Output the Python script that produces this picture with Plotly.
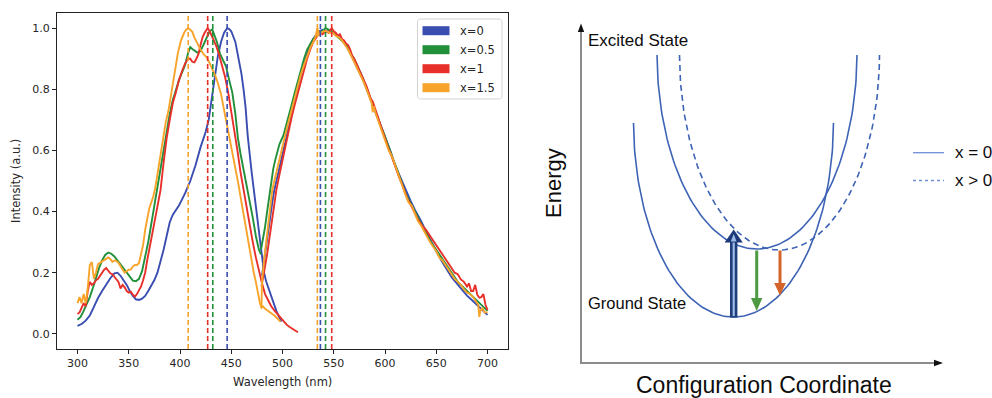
import plotly.graph_objects as go
import math

W, H = 992, 398

# ---------------- data: left panel ----------------
SERIES = ["x=0", "x=0.5", "x=1", "x=1.5"]
COLORS = ["#3a4db0", "#22903a", "#e8302a", "#f8a32a"]

X_TICKS = [300, 350, 400, 450, 500, 550, 600, 650, 700]
Y_TICKS = [0.0, 0.2, 0.4, 0.6, 0.8, 1.0]

# excitation peaks / emission peaks (dashed markers)
EX_PEAKS = [446, 432, 427, 408]
EM_PEAKS = [537, 542, 548, 534]

X0_EX = [(300,.026),(304,.032),(308,.043),(312,.06),(316,.088),(320,.117),(324,.14),(328,.163),
         (332,.182),(336,.198),(339,.2),(342,.19),(345,.175),(348,.16),(351,.14),(354,.124),
         (357,.113),(360,.111),(363,.115),(366,.124),(369,.14),(372,.158),(375,.176),(378,.2),
         (381,.235),(384,.275),(387,.32),(390,.365),(393,.39),(396,.405),(399,.42),(402,.44),
         (405,.46),(410,.5),(415,.55),(420,.61),(425,.66),(428,.7),(431,.77),(434,.84),(437,.91),
         (440,.955),(443,.985),(446,1.0),(448,.997),(450,.99),(452,.975),(454,.955),(456,.92),
         (458,.885),(460,.85),(462,.8),(464,.74),(466,.65),(468,.58),(470,.526),(472,.472),
         (474,.418),(476,.364),(478,.31),(480,.256),(482,.2),(484,.172),(486,.152),(488,.13),
         (490,.11),(492,.092),(494,.075),(496,.06),(498,.046),(499,.04)]
X0_EM = [(480,.19),(482,.24),(484,.29),(486,.34),(488,.39),(490,.43),(492,.47),(494,.5),(496,.53),
         (498,.56),(500,.59),(503,.63),(506,.67),(509,.72),(512,.765),(515,.81),(518,.85),(521,.885),
         (524,.915),(527,.945),(530,.965),(533,.98),(536,.99),(539,.995),(542,.99),(545,.99),
         (548,.99),(551,.98),(554,.975),(557,.965),(560,.955),(563,.94),(566,.92),(569,.9),
         (572,.88),(575,.86),(578,.835),(581,.81),(585,.775),(590,.735),(595,.69),(600,.645),
         (605,.6),(610,.55),(615,.51),(620,.47),(625,.435),(630,.4),(635,.37),(640,.335),
         (645,.3),(650,.27),(655,.24),(660,.21),(665,.185),(670,.165),(675,.145),(680,.125),
         (685,.11),(690,.093),(695,.078),(700,.062)]

X05_EX = [(300,.046),(303,.055),(306,.075),(309,.095),(312,.12),(315,.15),(318,.185),(321,.215),
          (324,.24),(327,.258),(330,.266),(333,.262),(336,.253),(339,.24),(342,.226),(345,.212),
          (348,.2),(351,.185),(354,.174),(357,.172),(360,.18),(363,.205),(366,.25),(369,.3),
          (372,.36),(375,.42),(378,.49),(381,.55),(384,.61),(387,.66),(390,.72),(393,.765),
          (396,.8),(399,.83),(402,.855),(405,.88),(408,.92),(410,.938),(412,.932),(414,.928),
          (417,.92),(420,.925),(423,.945),(426,.97),(429,.99),(431.5,.996),(434,.975),(436,.955),
          (439,.917),(442,.895),(445,.874),(448,.83),(451,.79),(454,.72),(456.5,.64),(459,.59),
          (462,.54),(465,.48),(468,.43),(471,.38),(474,.32),(477,.275),(479,.26)]
X05_EM = [(479,.275),(481,.31),(483,.35),(485,.4),(487,.45),(489,.5),(491,.54),(493,.57),(495,.6),
          (497,.62),(499,.635),(501,.65),(503,.675),(506,.71),(509,.75),(512,.79),(515,.83),
          (518,.865),(521,.9),(524,.93),(527,.95),(530,.965),(533,.975),(536,.985),(539,.99),
          (542,1.0),(545,.995),(548,.99),(551,.98),(554,.972),(557,.962),(560,.952),(563,.94),
          (566,.92),(569,.905),(572,.885),(575,.865),(578,.84),(581,.815),(584,.785),(587,.76),
          (590,.735),(593,.705),(596,.68),(599,.655),(602,.625),(605,.6),(608,.57),(611,.545),
          (614,.515),(617,.49),(620,.46),(623,.44),(626,.42),(629,.4),(632,.38),(635,.36),
          (638,.34),(641,.32),(644,.305),(647,.29),(650,.275),(653,.26),(656,.245),(659,.23),
          (662,.215),(665,.2),(668,.185),(671,.17),(674,.16),(677,.15),(680,.14),(683,.13),
          (686,.12),(689,.11),(692,.1),(695,.09),(698,.08),(700,.075)]

X1_EX = [(300,.065),(302,.07),(304,.085),(306,.1),(308,.09),(310,.14),(312,.17),(314,.16),
         (316,.165),(318,.175),(320,.18),(322,.19),(324,.2),(326,.21),(328,.215),(330,.205),
         (332,.198),(334,.195),(336,.187),(338,.18),(340,.17),(342,.148),(344,.16),(346,.152),
         (348,.14),(350,.135),(352,.138),(354,.128),(356,.122),(358,.13),(360,.142),(362,.155),
         (364,.175),(366,.2),(368,.24),(370,.275),(372,.3),(375,.36),(378,.41),(381,.47),
         (384,.56),(387,.64),(390,.7),(393,.755),(396,.79),(399,.83),(402,.86),(405,.885),
         (408,.9),(410,.9),(412,.89),(414,.888),(416,.9),(418,.915),(420,.945),(422,.97),
         (424,.985),(426,.995),(427,1.0),(429,.99),(432,.97),(435,.945),(438,.915),(441,.88),
         (444,.84),(447,.79),(450,.73),(453,.66),(456,.6),(459,.53),(462,.47),(465,.41),
         (468,.35),(471,.3),(474,.25),(477,.205),(480,.165),(483,.13),(486,.11),(489,.09),
         (492,.077),(495,.065),(498,.053),(501,.04),(504,.03),(507,.022),(510,.015),(512,.012),
         (515,.005)]
X1_EM = [(479.5,.155),(482,.2),(485,.26),(488,.33),(491,.4),(494,.47),(497,.52),(500,.57),
         (503,.62),(506,.67),(509,.71),(512,.75),(515,.79),(518,.83),(521,.865),(524,.9),
         (527,.93),(530,.955),(533,.97),(536,.985),(539,.98),(542,.99),(545,.985),(548,1.0),
         (550,.99),(552,.985),(554,.975),(556,.98),(558,.965),(560,.96),(562,.95),(564,.945),
         (566,.93),(568,.91),(570,.9),(572,.885),(574,.87),(576,.855),(578,.84),(580,.83),
         (582,.81),(584,.79),(586,.77),(588,.76),(590,.74),(592,.72),(594,.695),(596,.675),
         (598,.66),(600,.64),(602,.62),(604,.6),(606,.585),(608,.565),(610,.55),(612,.53),
         (614,.51),(616,.495),(618,.475),(620,.46),(622,.44),(624,.43),(626,.415),(628,.4),
         (630,.39),(632,.375),(634,.365),(636,.355),(640,.34),(645,.315),(650,.29),(655,.265),
         (660,.24),(665,.215),(668,.2),(671,.195),(674,.178),(677,.17),(680,.155),(682,.165),
         (684,.14),(686,.14),(688,.16),(690,.128),(692,.118),(694,.12),(696,.13),(698,.095),
         (700,.078)]

X15_EX = [(300,.1),(302,.12),(304,.1),(306,.13),(308,.1),(310,.15),(312,.225),(314,.235),
          (316,.18),(318,.2),(320,.228),(322,.232),(324,.236),(326,.24),(328,.245),(330,.25),
          (332,.245),(334,.235),(336,.24),(338,.238),(340,.232),(342,.22),(344,.21),(346,.2),
          (348,.205),(350,.21),(352,.21),(354,.22),(356,.225),(358,.225),(360,.232),(362,.258),
          (364,.29),(366,.34),(368,.38),(370,.41),(372,.43),(374,.45),(376,.48),(378,.52),
          (380,.56),(383,.634),(386,.69),(389,.735),(392,.8),(395,.86),(398,.92),(401,.96),
          (404,.985),(406,.995),(408,1.0),(410,.995),(412,.988),(414,.97),(416,.955),(418,.945),
          (420,.93),(423,.915),(426,.905),(429,.885),(432,.863),(435,.84),(437,.82),(440,.785),
          (442,.75),(445,.7),(448,.65),(451,.6),(454,.55),(457,.49),(460,.43),(463,.37),
          (466,.315),(468,.28),(470,.24),(472,.2),(474,.17),(476,.13),(478,.1),(479.5,.085),
          (481,.09),(483,.082),(486,.075),(489,.068),(492,.06),(495,.05),(498,.04)]
X15_EM = [(479.5,.09),(480,.17),(482,.24),(484,.3),(486,.36),(488,.42),(490,.47),(492,.5),
          (494,.53),(496,.56),(498,.58),(500,.61),(503,.655),(506,.695),(509,.735),(512,.775),
          (515,.815),(518,.85),(521,.88),(524,.91),(527,.935),(530,.955),(532,.97),(534,1.0),
          (536,.975),(538,.985),(540,.99),(543,.99),(546,.985),(549,.985),(552,.975),(555,.97),
          (558,.96),(561,.945),(564,.93),(567,.91),(570,.89),(573,.87),(576,.85),(579,.825),
          (582,.8),(585,.775),(587,.755),(588,.725),(589,.745),(591,.72),(594,.69),(597,.665),
          (600,.635),(603,.605),(606,.585),(608,.57),(611,.54),(614,.51),(617,.48),(620,.455),
          (623,.43),(626,.42),(629,.395),(632,.37),(635,.355),(638,.335),(641,.32),(644,.3),
          (647,.285),(650,.27),(653,.25),(656,.24),(659,.225),(662,.21),(665,.195),(668,.18),
          (671,.17),(674,.16),(677,.145),(680,.135),(683,.13),(686,.12),(689,.105),(691,.095),
          (692,.055),(693,.075),(695,.085),(697,.07),(700,.07)]

EXCITATION = [X0_EX, X05_EX, X1_EX, X15_EX]
EMISSION = [X0_EM, X05_EM, X1_EM, X15_EM]

# ---------------- data: right panel (schematic, pixel units) ----------------
# (centre x, minimum y, half-width, depth, top y)
GROUND = (733.5, 317, 100, 196, 123)
EXCITED_X0 = (757, 249, 100, 196, 55)
EXCITED_XG0 = (779.5, 250, 100, 196, 55)
DIAGRAM_BLUE = "#3d63b5"

fig = go.Figure()

# left panel curves
for name, col, ex, em in zip(SERIES, COLORS, EXCITATION, EMISSION):
    for seg in (ex, em):
        fig.add_trace(go.Scatter(x=[p[0] for p in seg], y=[p[1] for p in seg], mode="lines",
                                 line=dict(color=col, width=1.9), name=name,
                                 hoverinfo="skip", xaxis="x", yaxis="y"))

shapes = []
for col, pk in zip(COLORS, EX_PEAKS):
    shapes.append(dict(type="line", xref="x", yref="y domain", x0=pk, x1=pk, y0=0, y1=1,
                       line=dict(color=col, width=1.6, dash="5px,3px")))
for col, pk in zip(COLORS, EM_PEAKS):
    shapes.append(dict(type="line", xref="x", yref="y domain", x0=pk, x1=pk, y0=0, y1=1,
                       line=dict(color=col, width=1.6, dash="5px,3px")))

annotations = []

def px(xp):
    return xp / W

def py(yp):
    return 1 - yp / H

def rounded_rect(x0, y0, x1, y1, r):
    # pixel coords -> paper coords path with rounded corners
    pts = []
    n = 5
    corners = [(x1 - r, y0 + r, -90, 0), (x1 - r, y1 - r, 0, 90),
               (x0 + r, y1 - r, 90, 180), (x0 + r, y0 + r, 180, 270)]
    for cx, cy, a0, a1 in corners:
        for k in range(n + 1):
            a = math.radians(a0 + (a1 - a0) * k / n)
            pts.append((px(cx + r * math.cos(a)), py(cy + r * math.sin(a))))
    return "M " + " L ".join(f"{x:.5f},{y:.5f}" for x, y in pts) + " Z"

# legend box (left panel)
shapes.append(dict(type="path", xref="paper", yref="paper", path=rounded_rect(417.5, 19, 502, 99, 3),
                   line=dict(color="#d4d4d4", width=1), fillcolor="rgba(255,255,255,0.85)"))
for i, (name, col) in enumerate(zip(SERIES, COLORS)):
    yc = 30.7 + i * 19
    shapes.append(dict(type="rect", xref="paper", yref="paper", x0=px(422.5), x1=px(449.5),
                       y0=py(yc + 4.5), y1=py(yc - 4.5), line=dict(width=0), fillcolor=col))
    annotations.append(dict(xref="paper", yref="paper", x=px(458), y=py(yc), text=name, showarrow=False,
                            xanchor="left", yanchor="middle",
                            font=dict(family="DejaVu Sans", size=11.5, color="#262626")))

annotations.append(dict(xref="paper", yref="paper", x=px(282.5), y=py(382), text="Wavelength (nm)",
                        showarrow=False, xanchor="center", yanchor="middle",
                        font=dict(family="DejaVu Sans", size=11.5, color="#262626")))
annotations.append(dict(xref="paper", yref="paper", x=px(16), y=py(181), text="Intensity (a.u.)",
                        showarrow=False, xanchor="center", yanchor="middle", textangle=-90,
                        font=dict(family="DejaVu Sans", size=11.5, color="#262626")))

# ---------------- right panel ----------------
def well(params, n=120):
    cx, ymin, a, b, ytop = params
    yc = ymin - b
    tmax = math.acos(max(-1.0, min(1.0, (ytop - yc) / b)))
    xs, ys = [], []
    for k in range(n + 1):
        t = -tmax + 2 * tmax * k / n
        xs.append(cx + a * math.sin(t))
        ys.append(yc + b * math.cos(t))
    return xs, ys

for params, dash in ((GROUND, "solid"), (EXCITED_X0, "solid"), (EXCITED_XG0, "6px,4px")):
    xs, ys = well(params)
    fig.add_trace(go.Scatter(x=xs, y=ys, mode="lines", line=dict(color=DIAGRAM_BLUE, width=1.6, dash=dash),
                             hoverinfo="skip", xaxis="x2", yaxis="y2"))

def tri(pts):
    return "M " + " L ".join(f"{x},{y}" for x, y in pts) + " Z"

# axis arrows
shapes.append(dict(type="line", xref="x2", yref="y2", x0=581, x1=581, y0=364, y1=30,
                   line=dict(color="#8c8c8c", width=2)))
shapes.append(dict(type="line", xref="x2", yref="y2", x0=580, x1=936, y0=363, y1=363,
                   line=dict(color="#8c8c8c", width=2)))
shapes.append(dict(type="path", xref="x2", yref="y2", path=tri([(577.8, 32), (584.2, 32), (581, 23.5)]),
                   fillcolor="#111", line=dict(width=0)))
shapes.append(dict(type="path", xref="x2", yref="y2", path=tri([(934, 359.8), (934, 366.2), (943, 363)]),
                   fillcolor="#111", line=dict(width=0)))

# absorption arrow (blue, double)
shapes.append(dict(type="rect", xref="x2", yref="y2", x0=730, x1=737.4, y0=241, y1=317.5,
                   fillcolor="#1f3d7a", line=dict(width=0)))
shapes.append(dict(type="rect", xref="x2", yref="y2", x0=732.6, x1=734.8, y0=240, y1=316,
                   fillcolor="#9dbbe6", line=dict(width=0)))
shapes.append(dict(type="path", xref="x2", yref="y2", path=tri([(724.6, 242.5), (742.8, 242.5), (733.7, 229.5)]),
                   fillcolor="#1d3a78", line=dict(width=0)))
shapes.append(dict(type="path", xref="x2", yref="y2", path=tri([(730.8, 241.5), (736.6, 241.5), (733.7, 234)]),
                   fillcolor="#9dbbe6", line=dict(width=0)))

# emission arrows
shapes.append(dict(type="line", xref="x2", yref="y2", x0=756.7, x1=756.7, y0=250.5, y1=299,
                   line=dict(color="#4d9a40", width=3)))
shapes.append(dict(type="path", xref="x2", yref="y2", path=tri([(751, 298), (762.4, 298), (756.7, 311)]),
                   fillcolor="#4d9a40", line=dict(width=0)))
shapes.append(dict(type="line", xref="x2", yref="y2", x0=780, x1=780, y0=250.5, y1=284,
                   line=dict(color="#d4642a", width=3)))
shapes.append(dict(type="path", xref="x2", yref="y2", path=tri([(774.2, 283), (785.8, 283), (780, 295.5)]),
                   fillcolor="#d4642a", line=dict(width=0)))

# right legend
shapes.append(dict(type="line", xref="x2", yref="y2", x0=913, x1=944, y0=152.7, y1=152.7,
                   line=dict(color="#6f8fd4", width=1.3)))
shapes.append(dict(type="line", xref="x2", yref="y2", x0=913, x1=944, y0=180.5, y1=180.5,
                   line=dict(color="#6f8fd4", width=1.3, dash="dot")))

RF = "Liberation Sans"
for txt, x, y, size, xa, ang in (("x = 0", 953, 152.7, 17, "left", 0),
                                 ("x &gt; 0", 953, 180.5, 17, "left", 0),
                                 ("Excited State", 586, 40, 17, "left", 0),
                                 ("Ground State", 586, 303, 16.5, "left", 0),
                                 ("Configuration Coordinate", 764, 385, 23, "center", 0),
                                 ("Energy", 553, 183, 22, "center", -90)):
    annotations.append(dict(xref="x2", yref="y2", x=x, y=y, text=txt, showarrow=False,
                            xanchor=xa, yanchor="middle", textangle=ang,
                            font=dict(family=RF, size=size, color="#0d0d0d")))

tickfont = dict(family="DejaVu Sans", size=11, color="#262626")
fig.update_layout(
    width=W, height=H, margin=dict(l=0, r=0, t=0, b=0),
    paper_bgcolor="white", plot_bgcolor="white", showlegend=False,
    xaxis=dict(domain=[57 / W, 508 / W], range=[280, 720], tickvals=X_TICKS,
               ticks="outside", ticklen=4, tickwidth=1, tickcolor="#222",
               showline=True, linecolor="#222", linewidth=1, mirror=True,
               showgrid=False, zeroline=False, tickfont=tickfont, anchor="y"),
    yaxis=dict(domain=[(H - 349) / H, (H - 13) / H], range=[-0.0497, 1.0497], tickvals=Y_TICKS,
               ticktext=[f"{v:.1f}" for v in Y_TICKS],
               ticks="outside", ticklen=4, tickwidth=1, tickcolor="#222",
               showline=True, linecolor="#222", linewidth=1, mirror=True,
               showgrid=False, zeroline=False, tickfont=tickfont, anchor="x"),
    xaxis2=dict(domain=[0.55, 1.0], range=[0.55 * W, W], visible=False, anchor="y2"),
    yaxis2=dict(domain=[0, 1], range=[H, 0], visible=False, anchor="x2"),
    shapes=shapes, annotations=annotations,
)

fig.write_html("out.html")
